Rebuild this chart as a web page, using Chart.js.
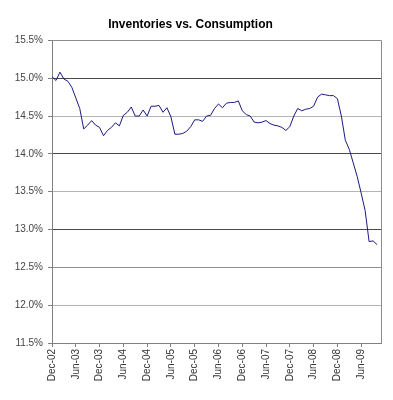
<!DOCTYPE html>
<html>
<head>
<meta charset="utf-8">
<script src="https://cdn.jsdelivr.net/npm/chart.js@4/dist/chart.umd.min.js"></script>
<style>
html,body{margin:0;padding:0;background:#fff;}
#wrap{width:393px;height:400px;}
</style>
</head>
<body>
<div id="wrap"><canvas id="c" width="393" height="400"></canvas></div>
<script>
const chartTitle = "Inventories vs. Consumption";
const categories = [
"Dec-02","Jan-03","Feb-03","Mar-03","Apr-03","May-03","Jun-03","Jul-03","Aug-03","Sep-03","Oct-03","Nov-03",
"Dec-03","Jan-04","Feb-04","Mar-04","Apr-04","May-04","Jun-04","Jul-04","Aug-04","Sep-04","Oct-04","Nov-04",
"Dec-04","Jan-05","Feb-05","Mar-05","Apr-05","May-05","Jun-05","Jul-05","Aug-05","Sep-05","Oct-05","Nov-05",
"Dec-05","Jan-06","Feb-06","Mar-06","Apr-06","May-06","Jun-06","Jul-06","Aug-06","Sep-06","Oct-06","Nov-06",
"Dec-06","Jan-07","Feb-07","Mar-07","Apr-07","May-07","Jun-07","Jul-07","Aug-07","Sep-07","Oct-07","Nov-07",
"Dec-07","Jan-08","Feb-08","Mar-08","Apr-08","May-08","Jun-08","Jul-08","Aug-08","Sep-08","Oct-08","Nov-08",
"Dec-08","Jan-09","Feb-09","Mar-09","Apr-09","May-09","Jun-09","Jul-09","Aug-09","Sep-09","Oct-09","Nov-09"
];
const labelledCategories = ["Dec-02","Jun-03","Dec-03","Jun-04","Dec-04","Jun-05","Dec-05","Jun-06","Dec-06","Jun-07","Dec-07","Jun-08","Dec-08","Jun-09"];
const ratioValues = [
15.02,14.97,15.08,14.99,14.96,14.88,14.74,14.60,14.33,14.38,14.44,14.38,
14.35,14.24,14.31,14.35,14.41,14.37,14.51,14.55,14.62,14.50,14.50,14.58,
14.50,14.63,14.63,14.64,14.55,14.61,14.49,14.26,14.26,14.27,14.30,14.36,
14.45,14.45,14.43,14.50,14.51,14.60,14.66,14.61,14.67,14.68,14.68,14.70,
14.57,14.52,14.50,14.42,14.41,14.42,14.44,14.40,14.38,14.37,14.35,14.31,
14.36,14.50,14.60,14.57,14.59,14.60,14.63,14.75,14.79,14.78,14.77,14.77,
14.73,14.50,14.18,14.06,13.88,13.70,13.48,13.25,12.84,12.85,12.80,null
];
const yMin = 11.5, yMax = 15.5, yStep = 0.5;
const darkGridValues = [15.0, 14.0, 13.0];

const frame = {
  id: 'frame',
  afterDatasetsDraw(chart) {
    const a = chart.chartArea, ctx = chart.ctx;
    ctx.save();
    ctx.strokeStyle = '#8c8c8c';
    ctx.lineWidth = 1;
    ctx.beginPath();
    ctx.moveTo(Math.round(a.left) + 0.5, Math.round(a.top) + 0.5);
    ctx.lineTo(Math.round(a.right) + 0.5, Math.round(a.top) + 0.5);
    ctx.lineTo(Math.round(a.right) + 0.5, Math.round(a.bottom) + 0.5);
    ctx.stroke();
    ctx.restore();
  }
};

new Chart(document.getElementById('c'), {
  type: 'line',
  data: {
    labels: categories,
    datasets: [{
      data: ratioValues,
      borderColor: '#1a1a80',
      borderWidth: 1,
      pointRadius: 0,
      tension: 0,
      fill: false,
      spanGaps: false
    }]
  },
  options: {
    responsive: false,
    animation: false,
    devicePixelRatio: 1,
    layout: { padding: { left: 0, right: 12, top: 0, bottom: 0 } },
    plugins: {
      legend: { display: false },
      tooltip: { enabled: false },
      title: {
        display: true,
        text: chartTitle,
        color: '#000',
        font: { family: 'Arial, "Liberation Sans", sans-serif', size: 12, weight: 'bold', lineHeight: 1.2 },
        padding: { top: 17, bottom: 9 }
      }
    },
    scales: {
      x: {
        type: 'category',
        offset: false,
        afterFit(s) { s.height = 57; },
        grid: { drawOnChartArea: false, drawTicks: true, tickLength: 4, color: '#808080' },
        border: { display: true, color: '#808080', width: 1 },
        ticks: {
          autoSkip: false,
          maxRotation: 90,
          minRotation: 90,
          padding: 2,
          color: '#333',
          font: { family: 'Arial, "Liberation Sans", sans-serif', size: 10 },
          callback(v, i) {
            const lab = categories[i];
            return labelledCategories.includes(lab) ? lab : null;
          }
        }
      },
      y: {
        min: yMin,
        max: yMax,
        afterFit(s) { s.width = 52; },
        grid: {
          drawTicks: true,
          tickLength: 4,
          tickColor: '#808080',
          color(ctx) {
            const v = ctx.tick ? Math.round(ctx.tick.value * 10) / 10 : 0;
            if (v === yMin) return '#808080';
            if (darkGridValues.includes(v)) return '#4a4a4a';
            if (v === 12.5) return '#8e8e8e';
            return '#b4b4b4';
          }
        },
        border: { display: true, color: '#808080', width: 1 },
        ticks: {
          stepSize: yStep,
          padding: 5,
          color: '#444',
          font: { family: 'Arial, "Liberation Sans", sans-serif', size: 10 },
          callback(v) { return Number(v).toFixed(1) + '%'; }
        }
      }
    }
  },
  plugins: [frame]
});
</script>
</body>
</html>
